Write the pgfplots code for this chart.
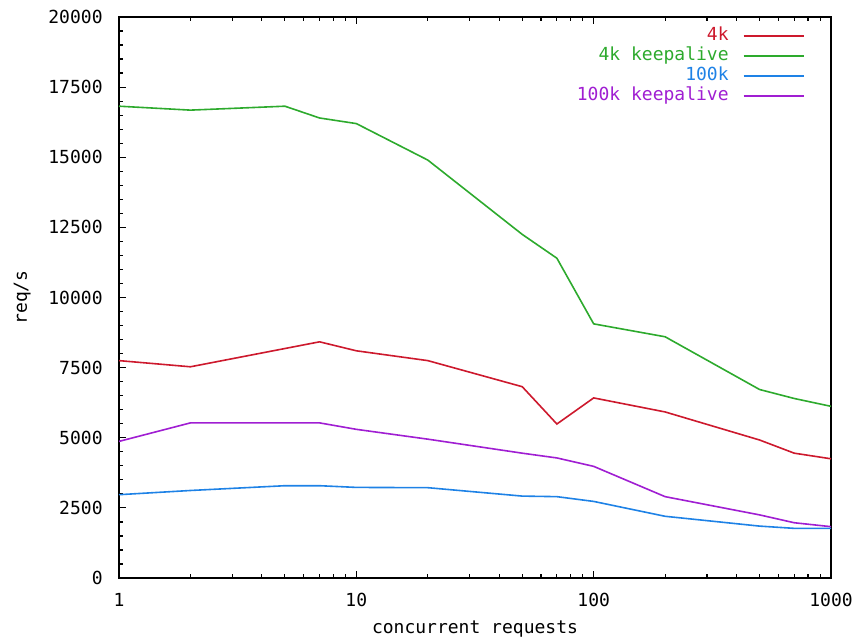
\documentclass[border=0pt]{standalone}
\usepackage{fontspec}
\setmainfont{DejaVu Sans Mono}
\usepackage{pgfplots}
\pgfplotsset{compat=1.18}

\definecolor{c4k}{RGB}{205,25,45}
\definecolor{c4kka}{RGB}{45,170,45}
\definecolor{c100k}{RGB}{30,130,230}
\definecolor{c100kka}{RGB}{160,30,210}

\begin{document}
\begin{tikzpicture}[font=\fontsize{9pt}{10pt}\selectfont]

\begin{axis}[%
name=ax,
width=356pt,
height=280.5pt,
scale only axis,
xmode=log,
xmin=1,
xmax=1000,
xtick={1,10,100,1000},
minor xtick={2,3,...,9,20,30,...,90,200,300,...,900},
log ticks with fixed point,
ymin=0,
ymax=20000,
ytick={0,2500,...,20000},
minor y tick num=4,
scaled y ticks=false,
tick align=inside,
xtick pos=both,
ytick pos=left,
major tick length=3.5pt,
minor tick length=2pt,
tick style={black, line width=0.6pt},
axis line style={black, line width=0.8pt},
/pgf/number format/assume math mode=true,
/pgf/number format/set thousands separator={},
yticklabel style={anchor=east, inner sep=0pt, xshift=-8pt, /pgf/number format/fixed},
xticklabel style={anchor=center, inner sep=0pt, yshift=-11pt},
xlabel={concurrent requests},
ylabel={req/s},
x label style={at={(axis description cs:0.5,-0.091)}, anchor=center},
y label style={at={(axis description cs:-0.136,0.5)}, anchor=center},
legend cell align=right,
legend plot pos=right,
legend image code/.code={\draw[#1, line width=1pt] (0pt,0pt) -- (30pt,0pt);},
legend style={draw=none, fill=none, at={(axis description cs:0.9635,0.984)},
  anchor=north east, inner sep=0pt, row sep=0pt, column sep=7pt,
  nodes={inner sep=0pt, text height=7pt, text depth=3pt}},
every axis plot/.append style={line width=0.8pt}
]

\addplot [color=c4k] table {
1 7750
2 7530
7 8420
10 8100
20 7750
50 6820
70 5490
100 6420
200 5920
500 4920
700 4450
1000 4250
};
\addlegendentry{\textcolor{c4k}{4k}}

\addplot [color=c4kka] table {
1 16820
2 16680
5 16820
7 16400
10 16200
20 14900
50 12250
70 11400
100 9060
200 8600
500 6720
700 6400
1000 6120
};
\addlegendentry{\textcolor{c4kka}{4k keepalive}}

\addplot [color=c100k] table {
1 2970
2 3120
5 3290
7 3290
10 3230
20 3220
50 2920
70 2900
100 2730
200 2200
500 1850
700 1770
1000 1770
};
\addlegendentry{\textcolor{c100k}{100k}}

\addplot [color=c100kka] table {
1 4870
2 5530
7 5530
10 5300
20 4950
50 4450
70 4280
100 3980
200 2900
500 2250
700 1970
1000 1830
};
\addlegendentry{\textcolor{c100kka}{100k keepalive}}

\end{axis}

\pgfresetboundingbox
\path[use as bounding box] ([shift={(-59.5pt,-30pt)}]ax.south west) rectangle ([shift={(16pt,8.5pt)}]ax.north east);
\end{tikzpicture}
\end{document}
